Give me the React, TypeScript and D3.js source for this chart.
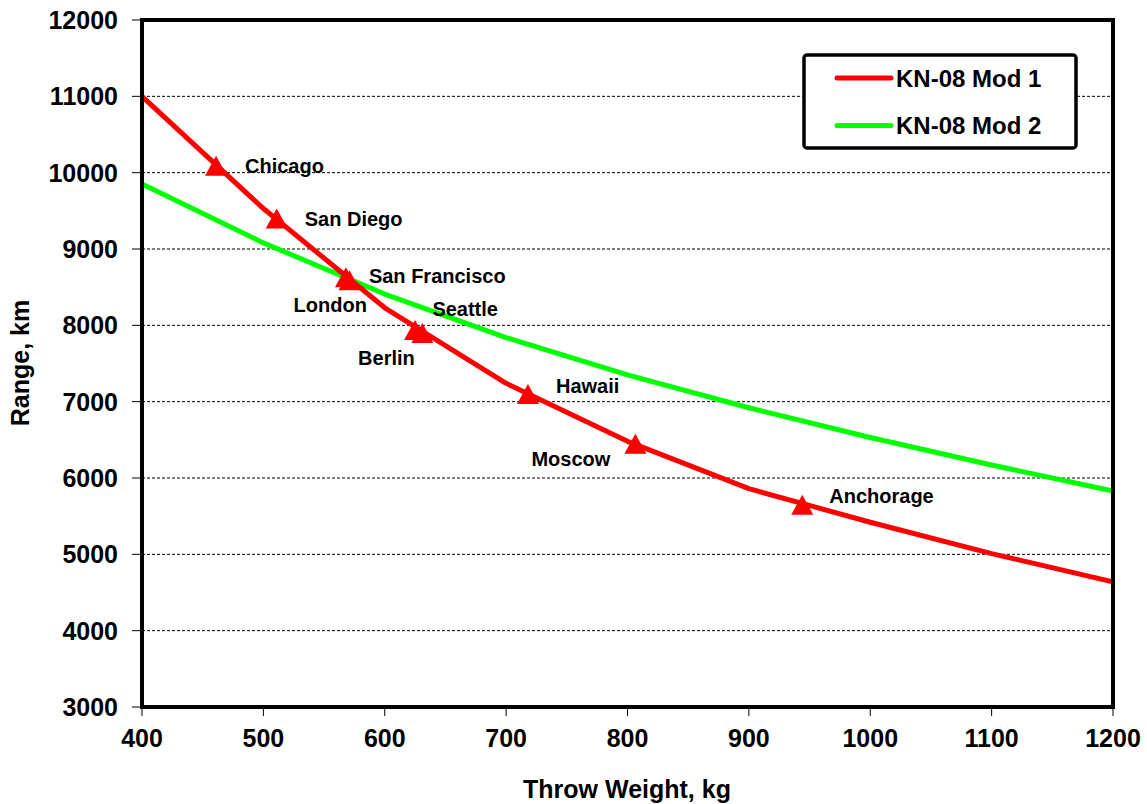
import React from "react";
import * as d3 from "d3";

const throwWeights = [400, 500, 600, 700, 800, 900, 1000, 1100, 1200];
const mod1Range = [11000, 9530, 8230, 7240, 6480, 5860, 5420, 5010, 4640];
const mod2Range = [9850, 9080, 8410, 7840, 7350, 6920, 6530, 6170, 5830];

const cityNames = ["Chicago", "San Diego", "San Francisco", "London", "Berlin", "Seattle", "Hawaii", "Moscow", "Anchorage"];
const cityWeights = [461, 511, 568, 571, 625, 631, 718, 806.5, 944];
const cityRanges = [10090, 9400, 8630, 8590, 7940, 7900, 7100, 6450, 5650];

const xTicks = [400, 500, 600, 700, 800, 900, 1000, 1100, 1200];
const yTicks = [3000, 4000, 5000, 6000, 7000, 8000, 9000, 10000, 11000, 12000];
const gridValues = [4000, 5000, 6000, 7000, 8000, 9000, 10000, 11000];

const seriesNames = ["KN-08 Mod 1", "KN-08 Mod 2"];

// label placement (pixel offsets from marker)
const labelDx = [29, 28, 23, -56, -57, 10, 28, -104, 27];
const labelDy = [7, 8, 6, 32, 35, -17, -1, 22, -2];

const W = 1147;
const H = 804;
const M = { left: 142, right: 1113, top: 20, bottom: 707 };
const FONT = "'Liberation Sans', Arial, sans-serif";
const RED = "#FF0000";
const GREEN = "#00FF00";

export default function App() {
  const x = d3.scaleLinear().domain([400, 1200]).range([M.left, M.right]);
  const y = d3.scaleLinear().domain([3000, 12000]).range([M.bottom, M.top]);

  const line = d3
    .line<number>()
    .x((_, i) => x(throwWeights[i]))
    .y((d) => y(d));

  const tri = "M0,-10 L11,10 L-11,10 Z";

  return (
    <svg
      width={W}
      height={H}
      style={{ position: "absolute", left: 0, top: 0, background: "#fff" }}
      fontFamily={FONT}
      fontWeight="bold"
    >
      <rect x={0} y={0} width={W} height={H} fill="#fff" />
      {gridValues.map((v) => (
        <line
          key={"g" + v}
          x1={M.left}
          x2={M.right}
          y1={y(v)}
          y2={y(v)}
          stroke="#000"
          strokeWidth={1}
          strokeDasharray="3,2"
        />
      ))}
      <path d={line(mod2Range) || ""} fill="none" stroke={GREEN} strokeWidth={5} strokeLinejoin="round" />
      <path d={line(mod1Range) || ""} fill="none" stroke={RED} strokeWidth={5} strokeLinejoin="round" />
      {cityNames.map((n, i) => (
        <path
          key={"m" + n}
          d={tri}
          transform={`translate(${x(cityWeights[i])},${y(cityRanges[i])})`}
          fill={RED}
        />
      ))}
      {cityNames.map((n, i) => (
        <text
          key={"l" + n}
          x={x(cityWeights[i]) + labelDx[i]}
          y={y(cityRanges[i]) + labelDy[i]}
          fontSize={20}
          fill="#000"
        >
          {n}
        </text>
      ))}
      <rect
        x={M.left}
        y={M.top}
        width={M.right - M.left}
        height={M.bottom - M.top}
        fill="none"
        stroke="#000"
        strokeWidth={4}
      />
      {yTicks.map((v) => (
        <g key={"y" + v}>
          <line x1={M.left - 10} x2={M.left} y1={y(v)} y2={y(v)} stroke="#000" strokeWidth={1} />
          <text x={118} y={y(v) + 9} textAnchor="end" fontSize={25} fill="#000">
            {v}
          </text>
        </g>
      ))}
      {xTicks.map((v) => (
        <g key={"x" + v}>
          <line x1={x(v)} x2={x(v)} y1={M.bottom} y2={M.bottom + 9} stroke="#000" strokeWidth={1} />
          <text x={x(v)} y={M.bottom + 40} textAnchor="middle" fontSize={25} fill="#000">
            {v}
          </text>
        </g>
      ))}
      <text x={627} y={798} textAnchor="middle" fontSize={25} fill="#000">
        Throw Weight, kg
      </text>
      <text
        transform={`translate(29,363) rotate(-90)`}
        textAnchor="middle"
        fontSize={25}
        fill="#000"
      >
        Range, km
      </text>
      <g>
        <rect x={804} y={55} width={272} height={93} rx={3} fill="#fff" stroke="#000" strokeWidth={3.5} />
        {seriesNames.map((s, i) => (
          <g key={s}>
            <line
              x1={837}
              x2={891}
              y1={78 + i * 47.5}
              y2={78 + i * 47.5}
              stroke={i === 0 ? RED : GREEN}
              strokeWidth={5}
              strokeLinecap="round"
            />
            <text x={896} y={86.5 + i * 47.5} fontSize={24} fill="#000">
              {s}
            </text>
          </g>
        ))}
      </g>
    </svg>
  );
}
